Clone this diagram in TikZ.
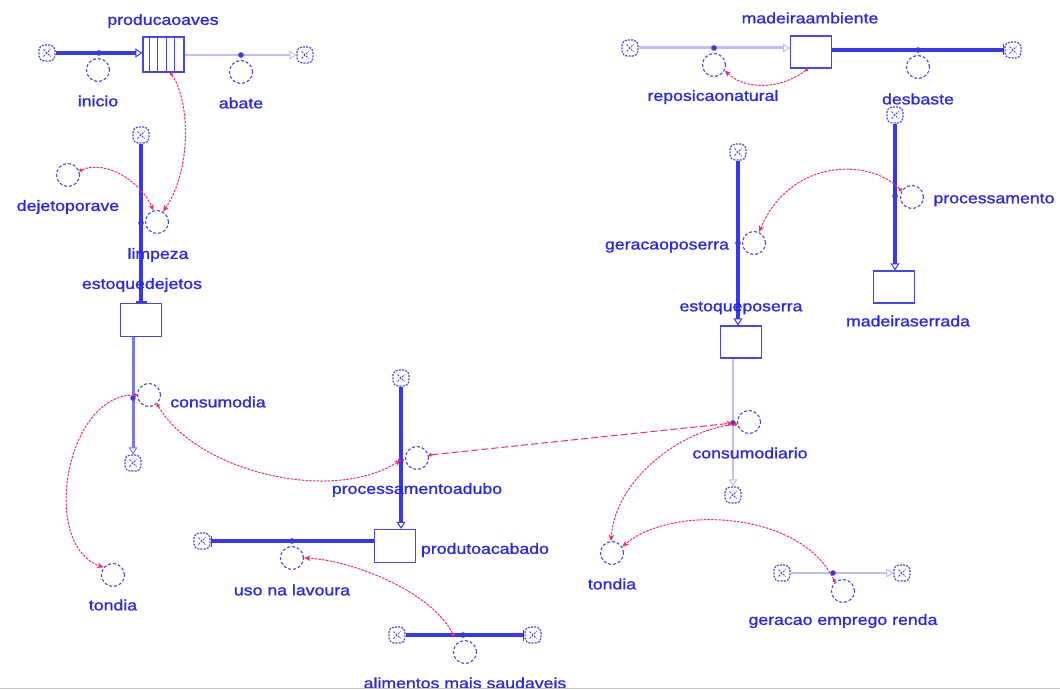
\documentclass[tikz,border=0pt]{standalone}
\usepackage{fontspec}
\setmainfont{Liberation Sans}[FakeStretch=1.18, FakeBold=1.2]
\usetikzlibrary{arrows.meta}
\definecolor{labblue}{RGB}{40,40,235}
\definecolor{pipeblue}{RGB}{55,55,235}
\definecolor{midpipe}{RGB}{120,120,240}
\definecolor{lightpipe}{RGB}{190,190,250}
\definecolor{linkpink}{RGB}{255,40,110}
\definecolor{outline}{RGB}{70,70,235}
\definecolor{edgegray}{RGB}{200,200,200}

\begin{document}
\begin{tikzpicture}[x=1pt,y=-1pt,
  lab/.style={text=labblue, font=\fontsize{15}{15}\selectfont, inner sep=0pt},
  conv/.style={circle, draw=outline, line width=1.1pt, dash pattern=on 3pt off 2pt,
    minimum size=23pt, inner sep=0pt},
  stockbox/.style={rectangle, draw=outline, line width=1.2pt, minimum width=41pt,
    minimum height=33pt, inner sep=0pt, fill=white},
  cloudx/.style={draw=outline, line width=1.2pt, dash pattern=on 2pt off 1.2pt,
    rounded corners=5pt, minimum size=16pt, inner sep=0pt, fill=white,
    path picture={
      \draw[outline, line width=1pt]
        ([shift={(4.5pt,4.5pt)}]path picture bounding box.south west) --
        ([shift={(-4.5pt,-4.5pt)}]path picture bounding box.north east)
        ([shift={(4.5pt,-4.5pt)}]path picture bounding box.north west) --
        ([shift={(-4.5pt,4.5pt)}]path picture bounding box.south east);}},
  pipe/.style={draw=pipeblue, line width=3.5pt},
  midflow/.style={draw=midpipe, line width=3pt},
  thinflow/.style={draw=lightpipe, line width=2.2pt},
  openhead/.style={-{Triangle[open, length=7pt, width=9pt, line width=1pt]}},
  barend/.style={-{Bar[width=11pt, line width=1.6pt]}},
  valvedot/.style={fill=pipeblue},
  conn/.style={draw=linkpink, line width=1pt, dash pattern=on 2.5pt off 1.2pt,
    {Circle[length=3.5pt]}-{Stealth[length=6.5pt, width=5.5pt]}},
  longconn/.style={conn, dash pattern=on 7pt off 3pt}
]
\useasboundingbox (0,0) rectangle (1060,690);

% ---- stocks ----
\node[stockbox, minimum height=35pt] (producaoaves) at (163.5,54.5) {};
\foreach \dx in {7,15,24,32}
  \draw[outline, line width=0.9pt] ([xshift=\dx pt]producaoaves.north west) -- ([xshift=\dx pt]producaoaves.south west);
\node[stockbox] (estoquedejetos) at (141,320) {};
\node[stockbox] (produtoacabado) at (395,546) {};
\node[stockbox, minimum height=32pt] (madeiraambiente) at (811,52) {};
\node[stockbox, minimum height=32pt] (madeiraserrada) at (894,287) {};
\node[stockbox, minimum height=32pt] (estoqueposerra) at (741,342) {};

% ---- clouds (sources and sinks) ----
\node[cloudx] (c1) at (47,53) {};
\node[cloudx] (c2) at (305,55) {};
\node[cloudx] (c3) at (141,135) {};
\node[cloudx] (c4) at (133,463) {};
\node[cloudx] (c5) at (401,378) {};
\node[cloudx] (c6) at (202,541) {};
\node[cloudx] (c7) at (397,635) {};
\node[cloudx] (c8) at (533,635) {};
\node[cloudx] (c9) at (630,48) {};
\node[cloudx] (c10) at (1013,50) {};
\node[cloudx] (c11) at (895,115) {};
\node[cloudx] (c12) at (738,152) {};
\node[cloudx] (c13) at (733,495) {};
\node[cloudx] (c14) at (782,573) {};
\node[cloudx] (c15) at (902,573) {};

% ---- flows ----
\draw[pipe, openhead] (c1) -- (c1 -| producaoaves.west);
\draw[thinflow, openhead] (producaoaves.east |- c2) -- (c2);
\draw[pipe, barend] (c3) -- (c3 |- estoquedejetos.north);
\draw[midflow, openhead] (estoquedejetos.south -| c4) -- (c4);
\draw[pipe, openhead] (c5) -- (c5 |- produtoacabado.north);
\draw[pipe, barend] (produtoacabado.west |- c6) -- (c6);
\draw[pipe, barend] (c7) -- (c8);
\draw[thinflow, line width=3pt, openhead] (c9) -- (c9 -| madeiraambiente.west);
\draw[pipe, barend] (madeiraambiente.east |- c10) -- (c10);
\draw[pipe, openhead] (c11) -- (c11 |- madeiraserrada.north);
\draw[pipe, openhead] (c12) -- (c12 |- estoqueposerra.north);
\draw[thinflow, openhead] (estoqueposerra.south -| c13) -- (c13);
\draw[thinflow, openhead] (c14) -- (c15);

% ---- valves ----
\coordinate (v1) at (99,53);
\coordinate (v2) at (241,55);
\coordinate (v3) at (141,223);
\coordinate (v4) at (133,398);
\coordinate (v5) at (401,460);
\coordinate (v6) at (292,541);
\coordinate (v7) at (463,635);
\coordinate (v8) at (714,48);
\coordinate (v9) at (918,50);
\coordinate (v10) at (895,196);
\coordinate (v11) at (738,243);
\coordinate (v12) at (733,423);
\coordinate (v13) at (833,573);
\coordinate (alimlink) at (454,636);
\foreach \v in {v1,v2,v3,v4,v5,v6,v7,v8,v9,v10,v11,v12,v13}
  \fill[valvedot] (\v) circle[radius=2.8pt];

% ---- converters ----
\node[conv] (inicio) at (98,70) {};
\node[conv] (abate) at (241,72) {};
\node[conv] (dejetoporave) at (68,175) {};
\node[conv] (limpeza) at (157,222) {};
\node[conv] (consumodia) at (149,395) {};
\node[conv] (tondiaL) at (113,575) {};
\node[conv] (processamentoadubo) at (417,458) {};
\node[conv] (usonalavoura) at (292,558) {};
\node[conv] (alimentos) at (465,652) {};
\node[conv] (reposicaonatural) at (714,65) {};
\node[conv] (desbaste) at (918,67) {};
\node[conv] (processamento) at (912,197) {};
\node[conv] (geracaoposerra) at (754,243) {};
\node[conv] (consumodiario) at (749,422) {};
\node[conv] (tondiaR) at (612,553) {};
\node[conv] (geracaoemprego) at (843,591) {};

% ---- information links ----
\draw[conn] (producaoaves.-70) .. controls (190,100) and (192,170) .. (limpeza.60);
\draw[conn] (dejetoporave.20) .. controls (105,160) and (140,180) .. (limpeza.107);
\draw[conn] (madeiraambiente.-100) .. controls (780,90) and (745,90) .. (reposicaonatural.-27);
\draw[conn] (processamento.150) .. controls (870,158) and (790,158) .. (geracaoposerra.65);
\draw[conn] (consumodia.180) .. controls (65,395) and (40,545) .. (tondiaL.141);
\draw[conn] (consumodia.-48) .. controls (195,470) and (330,505) .. (v5);
\draw[longconn] (processamentoadubo.14) -- (v12);
\draw[conn] (consumodiario.190) .. controls (680,430) and (615,480) .. (tondiaR.95);
\draw[conn] (geracaoemprego.132) .. controls (800,510) and (670,505) .. (tondiaR.31);
\draw[conn] (alimlink) .. controls (430,590) and (350,560) .. (usonalavoura.0);

% ---- labels ----
\node[lab] (l-producaoaves) at (163,21) {producaoaves};
\node[lab] (l-inicio) at (98,101) {inicio};
\node[lab] (l-abate) at (241,103) {abate};
\node[lab] (l-dejetoporave) at (68,207) {dejetoporave};
\node[lab] (l-limpeza) at (158,255) {limpeza};
\node[lab] (l-estoquedejetos) at (142,285) {estoquedejetos};
\node[lab] (l-consumodia) at (218,402) {consumodia};
\node[lab] (l-tondiaL) at (113,605) {tondia};
\node[lab] (l-processamentoadubo) at (417,490) {processamentoadubo};
\node[lab] (l-produtoacabado) at (485,550) {produtoacabado};
\node[lab] (l-usonalavoura) at (292,590) {uso na lavoura};
\node[lab] (l-alimentos) at (465,683) {alimentos mais saudaveis};
\node[lab] (l-madeiraambiente) at (810,18) {madeiraambiente};
\node[lab] (l-reposicaonatural) at (713,97) {reposicaonatural};
\node[lab] (l-desbaste) at (918,99) {desbaste};
\node[lab] (l-processamento) at (994,200) {processamento};
\node[lab] (l-madeiraserrada) at (908,321) {madeiraserrada};
\node[lab] (l-geracaoposerra) at (667,247) {geracaoposerra};
\node[lab] (l-estoqueposerra) at (741,308) {estoqueposerra};
\node[lab] (l-consumodiario) at (750,453) {consumodiario};
\node[lab] (l-tondiaR) at (612,584) {tondia};
\node[lab] (l-geracaoemprego) at (843,621) {geracao emprego renda};

% ---- lower edge of the canvas ----
\draw[edgegray, line width=1.2pt] (0,688.5) -- (1060,688.5);
\end{tikzpicture}
\end{document}
